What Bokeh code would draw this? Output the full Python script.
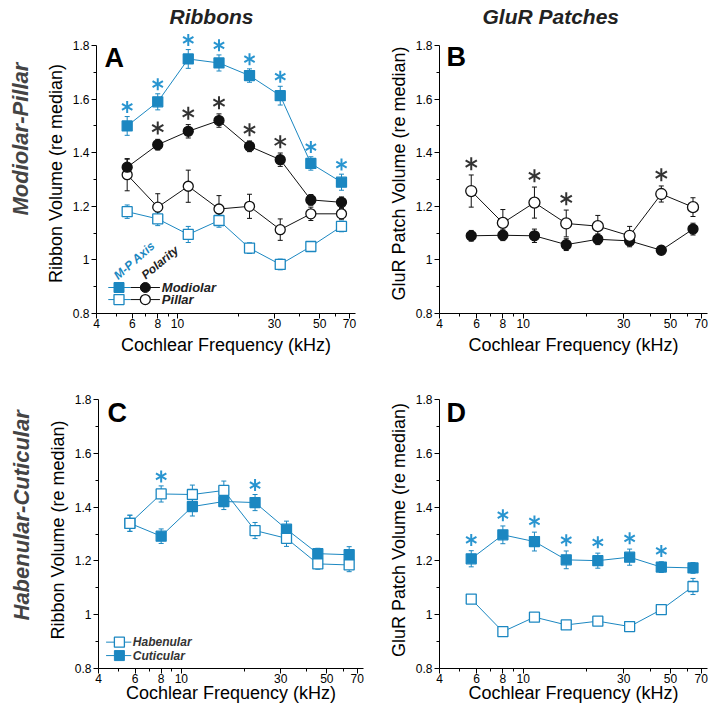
import math
from bokeh.plotting import figure
from bokeh.layouts import column, row
from bokeh.models import Range1d, FixedTicker, CustomJSTickFormatter, Title, Label
from bokeh.core.properties import value
from bokeh.embed import file_html
from bokeh.resources import INLINE

# ---------------- data ----------------
freq = [5.66, 8.0, 11.3, 16.0, 22.6, 32.0, 45.25, 64.0]
x_ticks = [4, 6, 8, 10, 30, 50, 70]
x_minor = [5, 7, 9, 20, 40, 60]
y_ticks = [0.8, 1.0, 1.2, 1.4, 1.6, 1.8]
y_minor = [0.9, 1.1, 1.3, 1.5, 1.7]

# Panel A: ribbons, modiolar-pillar
a_axis_mod = [1.50, 1.59, 1.75, 1.735, 1.688, 1.613, 1.36, 1.29]
a_axis_mod_err = [0.035, 0.03, 0.035, 0.03, 0.025, 0.035, 0.025, 0.03]
a_axis_pil = [1.18, 1.153, 1.095, 1.147, 1.044, 0.983, 1.05, 1.125]
a_axis_pil_err = [0.025, 0.025, 0.03, 0.025, 0.02, 0.02, 0.012, 0.02]
a_pol_mod = [1.346, 1.43, 1.48, 1.52, 1.424, 1.374, 1.224, 1.215]
a_pol_mod_err = [0.03, 0.02, 0.025, 0.025, 0.02, 0.025, 0.02, 0.02]
a_pol_pil = [1.318, 1.197, 1.275, 1.19, 1.2, 1.113, 1.172, 1.172]
a_pol_pil_err = [0.06, 0.05, 0.06, 0.05, 0.045, 0.04, 0.025, 0.02]
a_axis_sig = [0, 1, 2, 3, 4, 5, 6, 7]
a_pol_sig = [1, 2, 3, 4, 5]

# Panel B: GluR patches, modiolar-pillar (polarity)
b_mod = [1.09, 1.092, 1.09, 1.057, 1.077, 1.071, 1.036, 1.115]
b_mod_err = [0.02, 0.02, 0.025, 0.022, 0.02, 0.022, 0.01, 0.022]
b_pil = [1.257, 1.138, 1.214, 1.136, 1.126, 1.09, 1.246, 1.197]
b_pil_err = [0.06, 0.05, 0.058, 0.05, 0.04, 0.035, 0.03, 0.035]
b_sig = [0, 2, 3, 6]

# Panel C: ribbons, habenular-cuticular
c_hab = [1.34, 1.449, 1.447, 1.462, 1.313, 1.284, 1.189, 1.185]
c_hab_err = [0.03, 0.03, 0.035, 0.035, 0.03, 0.03, 0.02, 0.025]
c_cut = [1.34, 1.292, 1.402, 1.421, 1.417, 1.318, 1.227, 1.223]
c_cut_err = [0.03, 0.027, 0.035, 0.03, 0.03, 0.03, 0.02, 0.03]
c_sig = [1, 4]

# Panel D: GluR patches, habenular-cuticular
d_cut = [1.208, 1.297, 1.272, 1.204, 1.201, 1.214, 1.177, 1.174]
d_cut_err = [0.03, 0.033, 0.035, 0.033, 0.028, 0.03, 0.02, 0.02]
d_hab = [1.058, 0.937, 0.991, 0.962, 0.976, 0.956, 1.019, 1.105]
d_hab_err = [0.012, 0.01, 0.01, 0.01, 0.01, 0.01, 0.012, 0.03]
d_sig = [0, 1, 2, 3, 4, 5, 6]

x_label = "Cochlear Frequency (kHz)"

# ---------------- style ----------------
BLUE = "#1b87c1"
STAR_BLUE = "#2995d0"
BLACK = "#111111"
STAR_BLACK = "#333333"
FONT = "Liberation Sans"
X_LO, X_HI = 4, 75


def make_panel(width, height, bl, br, bt, bb, ytop, ylabel, xls):
    p = figure(width=width, height=height, x_axis_type="log",
               x_range=Range1d(X_LO, X_HI), y_range=Range1d(0.8, ytop),
               output_backend="svg", toolbar_location=None,
               min_border_left=bl, min_border_right=br,
               min_border_top=bt, min_border_bottom=bb)
    p.outline_line_color = None
    p.xgrid.visible = False
    p.ygrid.visible = False
    xa = p.xaxis[0]
    ya = p.yaxis[0]
    xa.ticker = FixedTicker(ticks=x_ticks, minor_ticks=x_minor)
    xa.formatter = CustomJSTickFormatter(code="return String(Math.round(tick));")
    ya.ticker = FixedTicker(ticks=y_ticks, minor_ticks=y_minor)
    ya.formatter = CustomJSTickFormatter(code="return String(Math.round(tick*10)/10);")
    ya.bounds = (0.8, 1.8)
    for ax in (xa, ya):
        ax.axis_line_color = "black"
        ax.axis_line_width = 1
        ax.major_tick_line_color = "black"
        ax.minor_tick_line_color = "black"
        ax.major_tick_in = 0
        ax.major_tick_out = 5
        ax.minor_tick_in = 0
        ax.minor_tick_out = 3
        ax.major_label_text_font = FONT
        ax.major_label_text_font_size = "12px"
        ax.major_label_text_color = "black"
        ax.axis_label_text_font = FONT
        ax.axis_label_text_font_style = "normal"
        ax.axis_label_text_color = "black"
    xa.major_label_standoff = 0
    ya.major_label_standoff = 2
    xa.axis_label = x_label
    xa.axis_label_text_font_size = "18px"
    xa.axis_label_standoff = xls
    ya.axis_label = ylabel
    ya.axis_label_text_font_size = "18px"
    ya.axis_label_standoff = 4
    return p


def errbars(p, ys, errs, color):
    lo = [y - e for y, e in zip(ys, errs)]
    hi = [y + e for y, e in zip(ys, errs)]
    p.segment(x0=freq, y0=lo, x1=freq, y1=hi, line_color=color, line_width=1)
    p.scatter(freq, hi, marker="dash", size=5, line_color=color, line_width=1)
    p.scatter(freq, lo, marker="dash", size=5, line_color=color, line_width=1)


def markers(p, ys, color, marker, filled, size=10):
    p.scatter(freq, ys, marker=marker, size=size,
              fill_color=color if filled else "white",
              line_color=color, line_width=1.3)


def stars(p, xs, ys, color, size=12, lw=2):
    for ang in (math.pi / 2, math.pi / 6, -math.pi / 6):
        p.scatter(xs, ys, marker="dash", size=size, angle=ang,
                  line_color=color, line_width=lw)


def star_pos(idx, vals_list, errs_list, off):
    xs = [freq[i] for i in idx]
    ys = [max(v[i] + e[i] for v, e in zip(vals_list, errs_list)) + off for i in idx]
    return xs, ys


def letter(p, txt, xoff, yoff):
    p.add_layout(Label(x=X_LO, y=1.8, x_offset=xoff, y_offset=yoff, text=txt,
                       text_font=FONT, text_font_style="bold",
                       text_font_size="27px", text_color="black",
                       text_baseline="alphabetic", text_align="left"))


def col_title(p, txt, off):
    p.add_layout(Title(text=txt, align="left", offset=off, vertical_align="top",
                       text_font=FONT, text_font_style="bold italic",
                       text_font_size="21px", text_color="#222222",
                       standoff=7), "above")


def row_title(p, txt, off, so):
    p.add_layout(Title(text=txt, align="left", offset=off, vertical_align="top",
                       text_font=FONT, text_font_style="bold italic",
                       text_font_size="22px", text_color="#444444",
                       standoff=so), "left")


def legend_text(p, x, y, txt, color, size="12px"):
    p.text(x=[x], y=[y], text=[txt], text_font=value(FONT),
           text_font_style="bold italic", text_font_size=size,
           text_color=color, text_align="left", text_baseline="middle")


def slanted_text(p, x, y, txt, color, deg):
    p.add_layout(Label(x=x, y=y, text=txt, angle=deg, angle_units="deg",
                       text_font=FONT, text_font_style="bold italic",
                       text_font_size="12px", text_color=color,
                       text_align="center", text_baseline="middle"))


# ---------------- panel A ----------------
pA = make_panel(370, 358, 90, 15, 33, 45, 1.845, "Ribbon Volume (re median)", 4)
col_title(pA, "Ribbons", 73)
row_title(pA, "Modiolar-Pillar", 98, 15)
for ys, c in ((a_axis_mod, BLUE), (a_axis_pil, BLUE), (a_pol_mod, BLACK), (a_pol_pil, BLACK)):
    pA.line(freq, ys, line_color=c, line_width=1)
for ys, es, c in ((a_axis_mod, a_axis_mod_err, BLUE), (a_axis_pil, a_axis_pil_err, BLUE),
                  (a_pol_mod, a_pol_mod_err, BLACK), (a_pol_pil, a_pol_pil_err, BLACK)):
    errbars(pA, ys, es, c)
markers(pA, a_axis_pil, BLUE, "square", False)
markers(pA, a_axis_mod, BLUE, "square", True)
markers(pA, a_pol_pil, BLACK, "circle", False)
markers(pA, a_pol_mod, BLACK, "circle", True)
sx, sy = star_pos(a_axis_sig, [a_axis_mod], [a_axis_mod_err], 0.036)
stars(pA, sx, sy, STAR_BLUE)
sx, sy = star_pos(a_pol_sig, [a_pol_mod], [a_pol_mod_err], 0.042)
stars(pA, sx, sy, STAR_BLACK, size=13)
letter(pA, "A", 8, -12)
# legend of panel A
ly1, ly2 = 0.897, 0.852
pA.line([4.57, 5.89], [ly1, ly1], line_color=BLUE, line_width=1)
pA.line([5.89, 8.2], [ly1, ly1], line_color=BLACK, line_width=1)
pA.line([4.57, 5.89], [ly2, ly2], line_color=BLUE, line_width=1)
pA.line([5.89, 8.2], [ly2, ly2], line_color=BLACK, line_width=1)
pA.scatter([5.16], [ly1], marker="square", size=10, fill_color=BLUE, line_color=BLUE)
pA.scatter([6.95], [ly1], marker="circle", size=10, fill_color=BLACK, line_color=BLACK)
pA.scatter([5.16], [ly2], marker="square", size=10, fill_color="white", line_color=BLUE, line_width=1.3)
pA.scatter([6.95], [ly2], marker="circle", size=10, fill_color="white", line_color=BLACK, line_width=1.3)
legend_text(pA, 8.38, ly1, "Modiolar", "#222222", "13px")
legend_text(pA, 8.38, ly2, "Pillar", "#222222", "13px")
slanted_text(pA, 6.15, 0.998, "M-P Axis", BLUE, 42)
slanted_text(pA, 8.2, 0.99, "Polarity", "#222222", 40)

# ---------------- panel B ----------------
pB = make_panel(338, 358, 69, 1, 33, 45, 1.845, "GluR Patch Volume (re median)", 4)
col_title(pB, "GluR Patches", 43)
pB.line(freq, b_mod, line_color=BLACK, line_width=1)
pB.line(freq, b_pil, line_color=BLACK, line_width=1)
errbars(pB, b_mod, b_mod_err, BLACK)
errbars(pB, b_pil, b_pil_err, BLACK)
markers(pB, b_mod, BLACK, "circle", True)
markers(pB, b_pil, BLACK, "circle", False, size=11)
sx, sy = star_pos(b_sig, [b_pil], [b_pil_err], 0.042)
stars(pB, sx, sy, STAR_BLACK, size=13)
letter(pB, "B", 7, -11)

# ---------------- panel C ----------------
pC = make_panel(370, 347, 92, 7, 33, 37, 1.83, "Ribbon Volume (re median)", -3)
row_title(pC, "Habenular-Cuticular", 48, 17)
pC.line(freq, c_cut, line_color=BLUE, line_width=1)
pC.line(freq, c_hab, line_color=BLUE, line_width=1)
errbars(pC, c_cut, c_cut_err, BLUE)
errbars(pC, c_hab, c_hab_err, BLUE)
markers(pC, c_cut, BLUE, "square", True)
markers(pC, c_hab, BLUE, "square", False)
sx, sy = star_pos(c_sig, [c_hab, c_cut], [c_hab_err, c_cut_err], 0.035)
stars(pC, sx, sy, STAR_BLUE)
letter(pC, "C", 9, -13)
cy1, cy2 = 0.898, 0.848
pC.line([4.35, 5.75], [cy1, cy1], line_color=BLUE, line_width=1)
pC.line([4.35, 5.75], [cy2, cy2], line_color=BLUE, line_width=1)
pC.scatter([5.04], [cy1], marker="square", size=10, fill_color="white", line_color=BLUE, line_width=1.3)
pC.scatter([5.04], [cy2], marker="square", size=10, fill_color=BLUE, line_color=BLUE)
legend_text(pC, 5.85, cy1, "Habenular", "#333333", "12px")
legend_text(pC, 5.85, cy2, "Cuticular", "#333333", "12px")

# ---------------- panel D ----------------
pD = make_panel(338, 347, 69, 1, 33, 37, 1.83, "GluR Patch Volume (re median)", -3)
pD.line(freq, d_cut, line_color=BLUE, line_width=1)
pD.line(freq, d_hab, line_color=BLUE, line_width=1)
errbars(pD, d_cut, d_cut_err, BLUE)
errbars(pD, d_hab, d_hab_err, BLUE)
markers(pD, d_hab, BLUE, "square", False)
markers(pD, d_cut, BLUE, "square", True)
sx, sy = star_pos(d_sig, [d_cut], [d_cut_err], 0.04)
stars(pD, sx, sy, STAR_BLUE)
letter(pD, "D", 7, -13)

layout = column(row(pA, pB), row(pC, pD))
open("out.html", "w").write(file_html(layout, INLINE))
